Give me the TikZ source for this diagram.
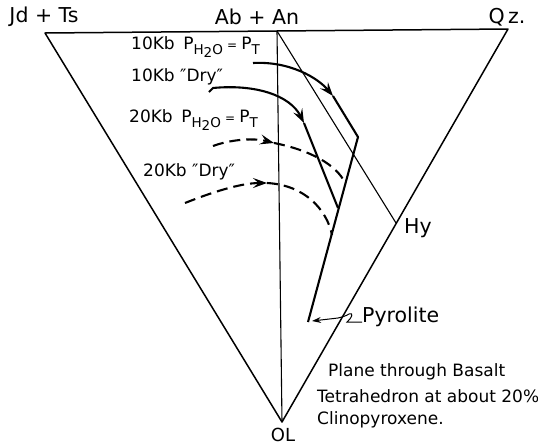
\documentclass[tikz,border=0pt]{standalone}
\usepackage{fontspec}
\setmainfont{DejaVu Sans}
\usetikzlibrary{arrows.meta}
\newcommand{\subH}{\raisebox{-0.32em}{\fontsize{13.5}{13.5}\selectfont H\raisebox{-0.22em}{2}O}}
\newcommand{\subT}{\raisebox{-0.32em}{\fontsize{13.5}{13.5}\selectfont T}}
\newcommand{\pwater}{P\subH\hspace{0.25em}{\fontsize{12}{12}\selectfont=}\hspace{0.25em}P\subT}
\begin{document}
\begin{tikzpicture}[x=1pt,y=-1pt,
  edge/.style={line width=1.5pt},
  thinline/.style={line width=1.1pt},
  curve/.style={line width=2.1pt},
  dashline/.style={line width=2.1pt, dash pattern=on 11pt off 6pt},
  arr/.style={-{Stealth[length=14pt,width=10pt,inset=5.5pt]}},
  big/.style={font=\fontsize{20.5}{22}\selectfont, inner sep=0pt},
  lbl/.style={font=\fontsize{17}{18}\selectfont, inner sep=0pt, anchor=west},
  note/.style={font=\fontsize{17}{19}\selectfont, inner sep=0pt, anchor=west}]
\useasboundingbox (0,0) rectangle (538,445);
% vertices
\coordinate (J) at (45,33);
\coordinate (Q) at (508,29);
\coordinate (O) at (282,422);
\coordinate (A) at (277,31);
\coordinate (H) at (396,223);
\coordinate (V) at (358,137);
\coordinate (P) at (308,322);
% triangle and joins
\draw[edge, line join=round] (J) -- (Q) -- (O) -- cycle;
\draw[thinline] (A) -- (O);
\draw[thinline] (A) -- (H);
% 10Kb PH2O = PT
\coordinate (c1s) at (253,63);
\coordinate (c1t) at (333,96);
\draw[curve, arr] (c1s) .. controls (290,61) and (318,78) .. (c1t);
\draw[curve, line join=round] (c1t) -- (V) -- (P);
% 10Kb Dry
\coordinate (c2h) at (209,92);
\coordinate (c2s) at (213,88);
\coordinate (c2t) at (304,123);
\coordinate (c2e) at (338,208);
\draw[curve, arr] (c2h) -- (c2s) .. controls (255,84) and (290,95) .. (c2t);
\draw[curve] (c2t) -- (c2e);
% 20Kb PH2O = PT (dashed)
\coordinate (d3s) at (213,146);
\coordinate (d3t) at (274,143);
\coordinate (d3e) at (345,183);
\draw[dashline, arr] (d3s) .. controls (232,139) and (255,138) .. (d3t);
\draw[dashline] (d3t) .. controls (310,150) and (337,165) .. (d3e);
% 20Kb Dry (dashed)
\coordinate (d4s) at (185,203);
\coordinate (d4t) at (267,183);
\coordinate (d4e) at (332,235);
\draw[dashline, arr] (d4s) .. controls (210,193) and (240,183) .. (d4t);
\draw[dashline] (d4t) .. controls (305,185) and (327,210) .. (d4e);
% labels
\node[big] (lJ) at (44,17) {Jd + Ts};
\node[big] (lA) at (257,17) {Ab + An};
\node[big] (lQ) at (507,17) {Q\,z.};
\node[font=\fontsize{18}{20}\selectfont, inner sep=0pt] (lO) at (283,435) {OL};
\node[big, anchor=west] (lH) at (404,228) {Hy};
\node[big, anchor=west] (lP) at (362,317) {Pyrolite};
\node[lbl] (t1) at (131,47) {10Kb\hspace{0.5em}\pwater};
\node[lbl] (t2) at (131,77) {10Kb ″Dry″};
\node[lbl] (t3) at (129,120) {20Kb\hspace{0.5em}\pwater};
\node[lbl] (t4) at (143,172) {20Kb ″Dry″};
\node[note] (n1) at (328,372) {Plane through Basalt};
\node[note] (n2) at (317,396) {Tetrahedron at about 20\%};
\node[note] (n3) at (317,420) {Clinopyroxene.};
% pyrolite pointer
\coordinate (pt) at (312,321);
\draw[line width=1pt, -{Stealth[length=9pt,width=6pt,inset=3pt]}]
  (lP.west) ++(0,5) -- (347,322) .. controls (352,318) and (354,312) .. (349,314)
  .. controls (346,316) and (342,317) .. (338,318) -- (pt);
\end{tikzpicture}
\end{document}
